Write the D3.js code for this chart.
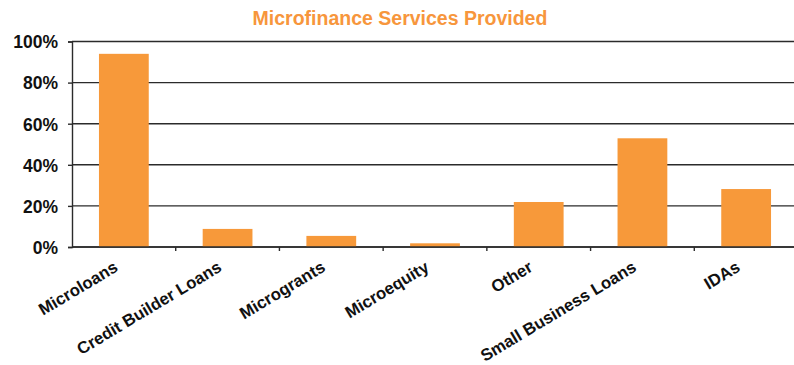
<!DOCTYPE html>
<html><head><meta charset="utf-8">
<script src="https://cdn.jsdelivr.net/npm/d3@7"></script>
<style>body{margin:0;background:#fff}svg{display:block}text{font-family:Arial,"Liberation Sans",sans-serif;font-weight:bold}</style>
</head><body><svg id="c" width="794" height="365"></svg>
<script>
const categories = ["Microloans","Credit Builder Loans","Microgrants","Microequity","Other","Small Business Loans","IDAs"];
const values = [94, 8.8, 5.4, 1.8, 21.9, 52.9, 28.2];
const yTicks = [0,20,40,60,80,100];
const title = "Microfinance Services Provided";

const svg = d3.select("#c");
const x = d3.scaleBand().domain(categories).range([72,798]).paddingInner(0.52).paddingOuter(0.26);
const y = d3.scaleLinear().domain([0,100]).range([247,41.5]);
const ink = "#2b2b2b", orange = "#F7993A";

svg.append("text").attr("x",400).attr("y",25).attr("text-anchor","middle")
  .attr("fill","#F7963C").style("font-size","19.5px").text(title);

// gridlines
svg.append("g").selectAll("line").data(yTicks).join("line")
  .attr("x1",72).attr("x2",794).attr("y1",d=>y(d)).attr("y2",d=>y(d))
  .attr("stroke",ink).attr("stroke-width",1.4);

// y axis
const yAxis = svg.append("g").attr("transform","translate(72,0)")
  .call(d3.axisLeft(y).tickValues(yTicks).tickFormat(d=>d+"%").tickSize(4).tickPadding(10));
yAxis.select(".domain").attr("stroke",ink).attr("stroke-width",1.4);
yAxis.selectAll(".tick line").attr("stroke",ink).attr("stroke-width",1.4);
yAxis.selectAll(".tick text").attr("fill","#111").style("font-size","17.5px").style("font-family","Arial,'Liberation Sans',sans-serif").attr("dy","0.36em");

// bars
svg.append("g").selectAll("rect").data(values).join("rect")
  .attr("x",(d,i)=>x(categories[i])).attr("width",x.bandwidth())
  .attr("y",d=>y(d)).attr("height",d=>y(0)-y(d)).attr("fill",orange);

// x axis
const bounds = categories.map(c=>x(c)-x.step()*x.paddingInner()/2).slice(1);
const xg = svg.append("g").attr("transform","translate(0,247)");
xg.append("line").attr("x1",72).attr("x2",794).attr("stroke",ink).attr("stroke-width",1.6);
xg.selectAll("line.t").data(bounds).join("line").attr("class","t")
  .attr("x1",d=>d).attr("x2",d=>d).attr("y1",0).attr("y2",4).attr("stroke",ink).attr("stroke-width",1.4);
xg.selectAll("text").data(categories).join("text")
  .attr("transform",d=>`translate(${x(d)+x.bandwidth()/2-11},${13}) rotate(-31)`)
  .attr("text-anchor","end").attr("dy","0.71em").attr("fill","#111").style("font-size","16.8px").text(d=>d);
</script></body></html>
